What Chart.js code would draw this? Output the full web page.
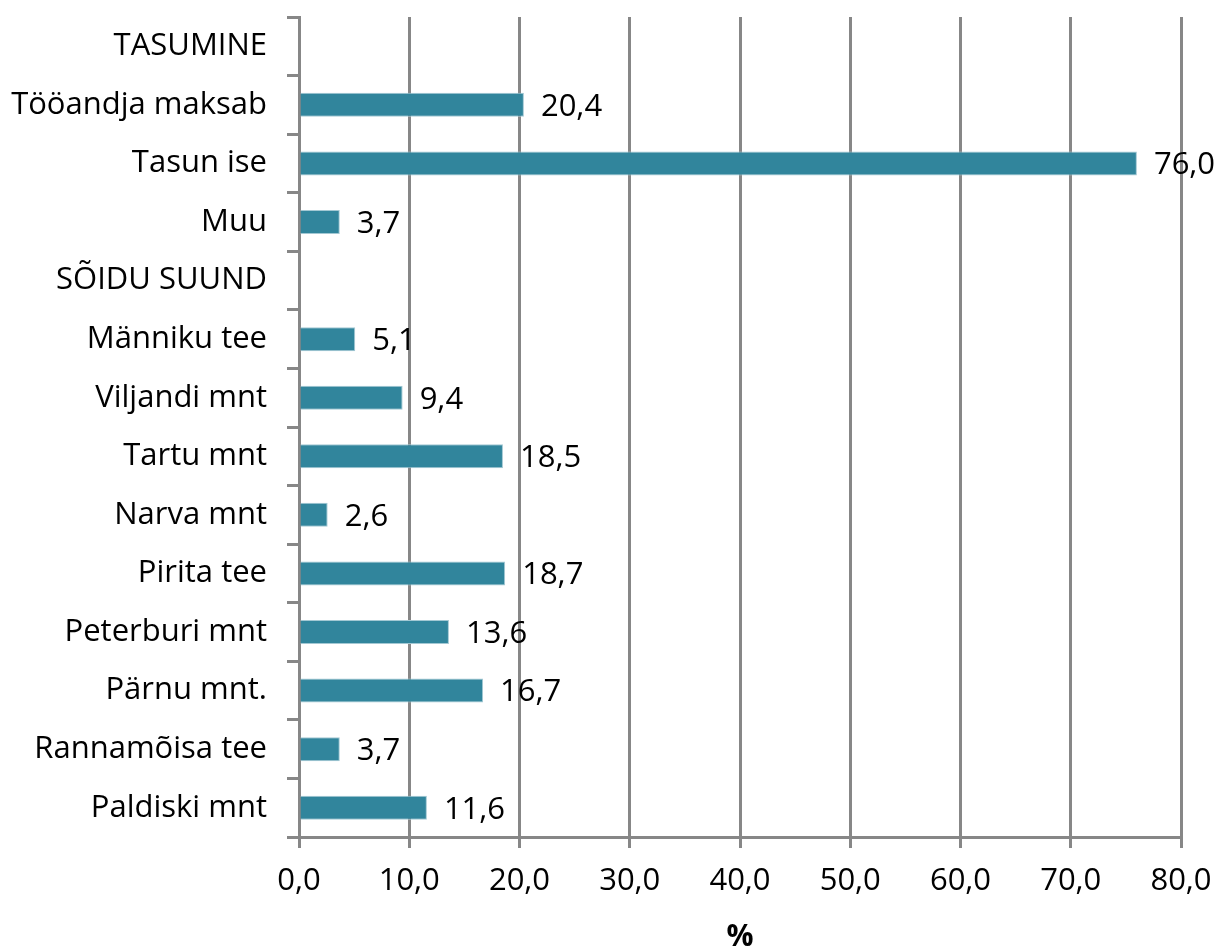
<!DOCTYPE html>
<html>
<head>
<meta charset="utf-8">
<script src="https://cdn.jsdelivr.net/npm/chart.js@4/dist/chart.umd.min.js"></script>
<style>
  html, body { margin: 0; padding: 0; background: #fff; }
  #wrap { width: 1223px; height: 949px; }
</style>
</head>
<body>
<div id="wrap"><canvas id="chart" width="1223" height="949"></canvas></div>
<script>
// Kategooriad ja väärtused (%)
const categories = [
  'TASUMINE', 'Tööandja maksab', 'Tasun ise', 'Muu',
  'SÕIDU SUUND', 'Männiku tee', 'Viljandi mnt', 'Tartu mnt', 'Narva mnt',
  'Pirita tee', 'Peterburi mnt', 'Pärnu mnt.', 'Rannamõisa tee', 'Paldiski mnt'
];
const shares = [null, 20.4, 76.0, 3.7, null, 5.1, 9.4, 18.5, 2.6, 18.7, 13.6, 16.7, 3.7, 11.6];
const xTicks = [0, 10, 20, 30, 40, 50, 60, 70, 80];

const FONT = '"Open Sans", Lato, sans-serif';
const SIZE = 31;
const GRID = '#878787';
const fmt = (v) => v.toFixed(1).replace('.', ',');

// Väärtuste sildid tulpade kõrval
const valueLabels = {
  id: 'valueLabels',
  afterDatasetsDraw(chart) {
    const c = chart.ctx;
    const meta = chart.getDatasetMeta(0);
    c.save();
    c.font = SIZE + 'px ' + FONT;
    c.fillStyle = '#000';
    c.textBaseline = 'middle';
    c.textAlign = 'left';
    meta.data.forEach((bar, i) => {
      const v = shares[i];
      if (v == null) return;
      c.fillText(fmt(v), bar.x + 17, bar.y + 2);
    });
    c.restore();
  }
};

new Chart(document.getElementById('chart').getContext('2d'), {
  type: 'bar',
  data: {
    labels: categories,
    datasets: [{
      data: shares,
      backgroundColor: '#31859c',
      borderColor: '#a3c8d3',
      borderWidth: 1,
      borderSkipped: 'start',
      barPercentage: 0.41,
      categoryPercentage: 1.0
    }]
  },
  options: {
    indexAxis: 'y',
    responsive: false,
    animation: false,
    layout: { padding: { top: 17, right: 42, left: 0, bottom: 0 } },
    plugins: {
      legend: { display: false },
      tooltip: { enabled: false }
    },
    scales: {
      x: {
        min: 0,
        max: 80,
        afterBuildTicks: (s) => { s.ticks = xTicks.map(v => ({ value: v })); },
        afterFit: (s) => { s.height = 112; s.paddingLeft = 0; s.paddingRight = 0; },
        grid: { color: GRID, lineWidth: 3, tickLength: 11 },
        border: { color: GRID, width: 3 },
        ticks: {
          color: '#000',
          font: { family: FONT, size: SIZE },
          padding: 15,
          callback: (v) => fmt(v)
        },
        title: {
          display: true,
          text: '%',
          color: '#000',
          font: { family: FONT, size: SIZE - 1, weight: 'bold' },
          padding: { top: 0, bottom: -6 }
        }
      },
      y: {
        afterFit: (s) => { s.width = 299; s.paddingTop = 0; s.paddingBottom = 0; },
        grid: { color: GRID, lineWidth: 3, tickLength: 12, drawOnChartArea: false, offset: true },
        border: { color: GRID, width: 3 },
        ticks: {
          color: '#000',
          font: { family: FONT, size: SIZE },
          padding: 20,
          autoSkip: false
        }
      }
    }
  },
  plugins: [valueLabels]
});
</script>
</body>
</html>
